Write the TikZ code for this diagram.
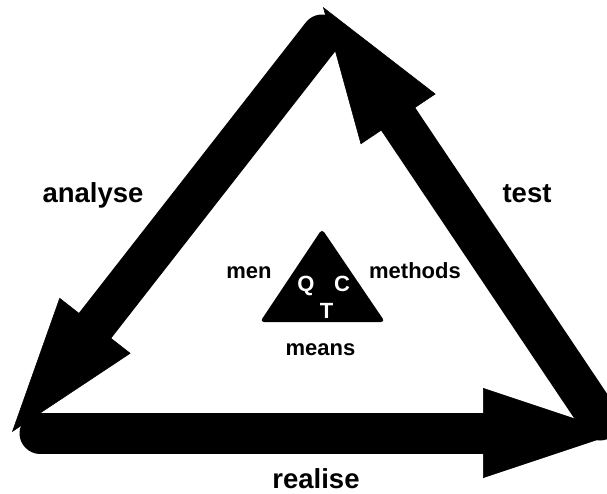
\documentclass[tikz,border=0pt]{standalone}
\usepackage{fontspec}
\setmainfont{Liberation Sans}
\usetikzlibrary{arrows.meta}
\definecolor{cycleink}{RGB}{0,0,0}
\tikzset{
  cyclearrow/.style={draw=cycleink, line width=41pt, line cap=round,
    -{Triangle[length=135pt, width=90pt, line width=0.5pt]}},
  phaselbl/.style={font=\fontsize{27.5}{33}\selectfont\bfseries, text=cycleink, anchor=base, inner sep=0pt},
  factorlbl/.style={font=\fontsize{22}{26}\selectfont\bfseries, text=cycleink, anchor=base, inner sep=0pt},
  qctlbl/.style={font=\fontsize{22}{26}\selectfont\bfseries, text=white, anchor=base, inner sep=0pt},
}

\begin{document}
\begin{tikzpicture}[x=1pt, y=-1pt]
\useasboundingbox (0,0) rectangle (607,494);
\clip (0,0) rectangle (607,494);

% ============================================================ cycle corners
\coordinate (anaStart) at (322,35);
\coordinate (anaTip)   at (12,432);
\coordinate (realStart) at (40,433);
\coordinate (realTip)  at (618,433);
\coordinate (testStart) at (600,420);
\coordinate (testTip)  at (323,7);

% ============================================================ big arrows
\draw[cyclearrow] (anaStart) -- (anaTip);
\draw[cyclearrow] (realStart) -- (realTip);
\draw[cyclearrow] (testStart) -- (testTip);

\node[phaselbl] (analyse) at (93,203) {analyse};
\node[phaselbl] (test)    at (527,203) {test};
\node[phaselbl] (realise) at (316,488) {realise};

% ============================================================ QCT triangle
\coordinate (qctTop)   at (322,229);
\coordinate (qctRight) at (385,322);
\coordinate (qctLeft)  at (260,322);
\fill[cycleink, rounded corners=4pt] (qctTop) -- (qctRight) -- (qctLeft) -- cycle;

\node[qctlbl] (q) at (306,291.7) {Q};
\node[qctlbl] (c) at (342,291.7) {C};
\node[qctlbl] (t) at (326.5,318.3) {T};

\node[factorlbl] (men)     at (249,278)   {men};
\node[factorlbl] (methods) at (415,278)   {methods};
\node[factorlbl] (means)   at (320.5,355) {means};

\end{tikzpicture}
\end{document}
